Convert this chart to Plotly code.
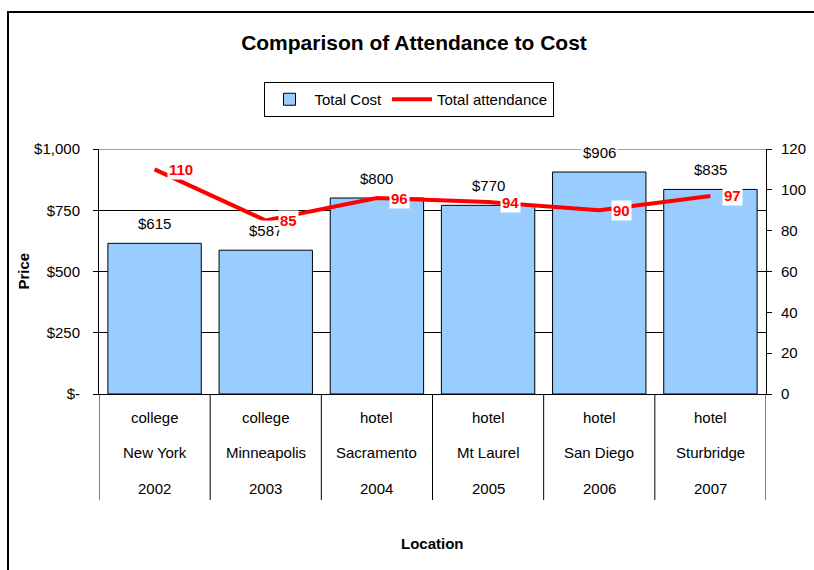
import plotly.graph_objects as go

# ---- data ----
venue_types = ["college", "college", "hotel", "hotel", "hotel", "hotel"]
cities = ["New York", "Minneapolis", "Sacramento", "Mt Laurel", "San Diego", "Sturbridge"]
years = ["2002", "2003", "2004", "2005", "2006", "2007"]
total_cost = [615, 587, 800, 770, 906, 835]
total_attendance = [110, 85, 96, 94, 90, 97]

cost_ticks = [0, 250, 500, 750, 1000]
cost_tick_text = ["$-", "$250", "$500", "$750", "$1,000"]

FONT = "Liberation Sans, Arial, sans-serif"
W, H = 814, 570


def py(px):
    return (H - px) / H


def px_x(px):
    return px / W


fig = go.Figure()

fig.add_trace(go.Bar(
    x=cities, y=total_cost, name="Total Cost",
    marker=dict(color="#99CCFF", line=dict(color="black", width=1)),
    yaxis="y",
))
fig.add_trace(go.Scatter(
    x=cities, y=total_attendance, name="Total attendance",
    mode="lines", line=dict(color="#FF0000", width=4),
    yaxis="y2",
))

annotations = []
# bar value labels
for c, v in zip(cities, total_cost):
    annotations.append(dict(
        x=c, y=v, xref="x", yref="y", text=f"${v:,}", showarrow=False,
        yanchor="bottom", yshift=9, bgcolor="white", borderpad=1,
        font=dict(family=FONT, size=15, color="black"),
    ))
# line value labels
for c, v in zip(cities, total_attendance):
    annotations.append(dict(
        x=c, y=v, xref="x", yref="y2", text=f"<b>{v}</b>", showarrow=False,
        xanchor="left", yanchor="middle", xshift=12, bgcolor="white", borderpad=1,
        font=dict(family=FONT, size=15, color="#FF0000"),
    ))
# multi-level category labels
for row_vals, ypx in ((venue_types, 417), (cities, 452), (years, 488)):
    for c, t in zip(cities, row_vals):
        annotations.append(dict(
            x=c, y=py(ypx), xref="x", yref="paper", text=t, showarrow=False,
            xanchor="center", yanchor="middle",
            font=dict(family=FONT, size=15, color="black"),
        ))
# axis titles
annotations.append(dict(
    x=px_x(432.5), y=py(543), xref="paper", yref="paper", text="<b>Location</b>",
    showarrow=False, xanchor="center", yanchor="middle",
    font=dict(family=FONT, size=15, color="black"),
))
annotations.append(dict(
    x=px_x(23), y=py(271.5), xref="paper", yref="paper", text="<b>Price</b>",
    showarrow=False, textangle=-90, xanchor="center", yanchor="middle",
    font=dict(family=FONT, size=15, color="black"),
))

shapes = []
# category separators (below the axis)
for k in range(len(cities) + 1):
    shapes.append(dict(
        type="line", xref="x", yref="paper", x0=k - 0.5, x1=k - 0.5,
        y0=py(394), y1=py(500), line=dict(color="black", width=1),
    ))
# gray top border of plot area
shapes.append(dict(
    type="line", xref="paper", yref="y", x0=px_x(99), x1=px_x(766),
    y0=1000, y1=1000, line=dict(color="#808080", width=1.5), layer="above",
))
# chart outer border
shapes.append(dict(
    type="rect", xref="paper", yref="paper", x0=px_x(8), x1=1.1,
    y0=-0.1, y1=py(12), line=dict(color="black", width=2), fillcolor="rgba(0,0,0,0)",
))

fig.update_layout(
    width=W, height=H,
    margin=dict(l=0, r=0, t=0, b=0, pad=0, autoexpand=False),
    paper_bgcolor="white", plot_bgcolor="white",
    font=dict(family=FONT, size=15, color="black"),
    title=dict(
        text="<b>Comparison of Attendance to Cost</b>",
        x=px_x(414), y=py(43), xanchor="center", yanchor="middle",
        font=dict(family=FONT, size=21, color="black"),
    ),
    showlegend=True,
    legend=dict(
        orientation="h", x=px_x(408.5), y=py(82), xanchor="center", yanchor="top",
        bgcolor="white", bordercolor="black", borderwidth=1,
        font=dict(family=FONT, size=15, color="black"),
        itemwidth=40, tracegroupgap=0,
    ),
    bargap=0.16,
    xaxis=dict(
        domain=[px_x(99), px_x(766)], type="category",
        range=[-0.5, len(cities) - 0.5],
        showticklabels=False, ticks="", showline=True, linecolor="black",
        linewidth=1, showgrid=False, zeroline=False, fixedrange=True,
    ),
    yaxis=dict(
        domain=[py(394), py(149)], range=[0, 1000],
        tickvals=cost_ticks, ticktext=cost_tick_text,
        ticks="outside", ticklen=5, tickcolor="black",
        showline=True, linecolor="black", linewidth=1,
        showgrid=True, gridcolor="black", gridwidth=1, zeroline=False,
        ticklabelstandoff=10, tickfont=dict(family=FONT, size=15),
    ),
    yaxis2=dict(
        overlaying="y", side="right", anchor="x", range=[0, 120], dtick=20,
        ticks="outside", ticklen=5, tickcolor="black",
        showline=True, linecolor="black", linewidth=1,
        showgrid=False, zeroline=False,
        ticklabelstandoff=6, tickfont=dict(family=FONT, size=15),
    ),
    annotations=annotations,
    shapes=shapes,
)

fig.write_html(
    "out.html",
    config={"displayModeBar": False},
    post_script="document.body.style.margin='0';document.body.style.overflow='hidden';",
)
